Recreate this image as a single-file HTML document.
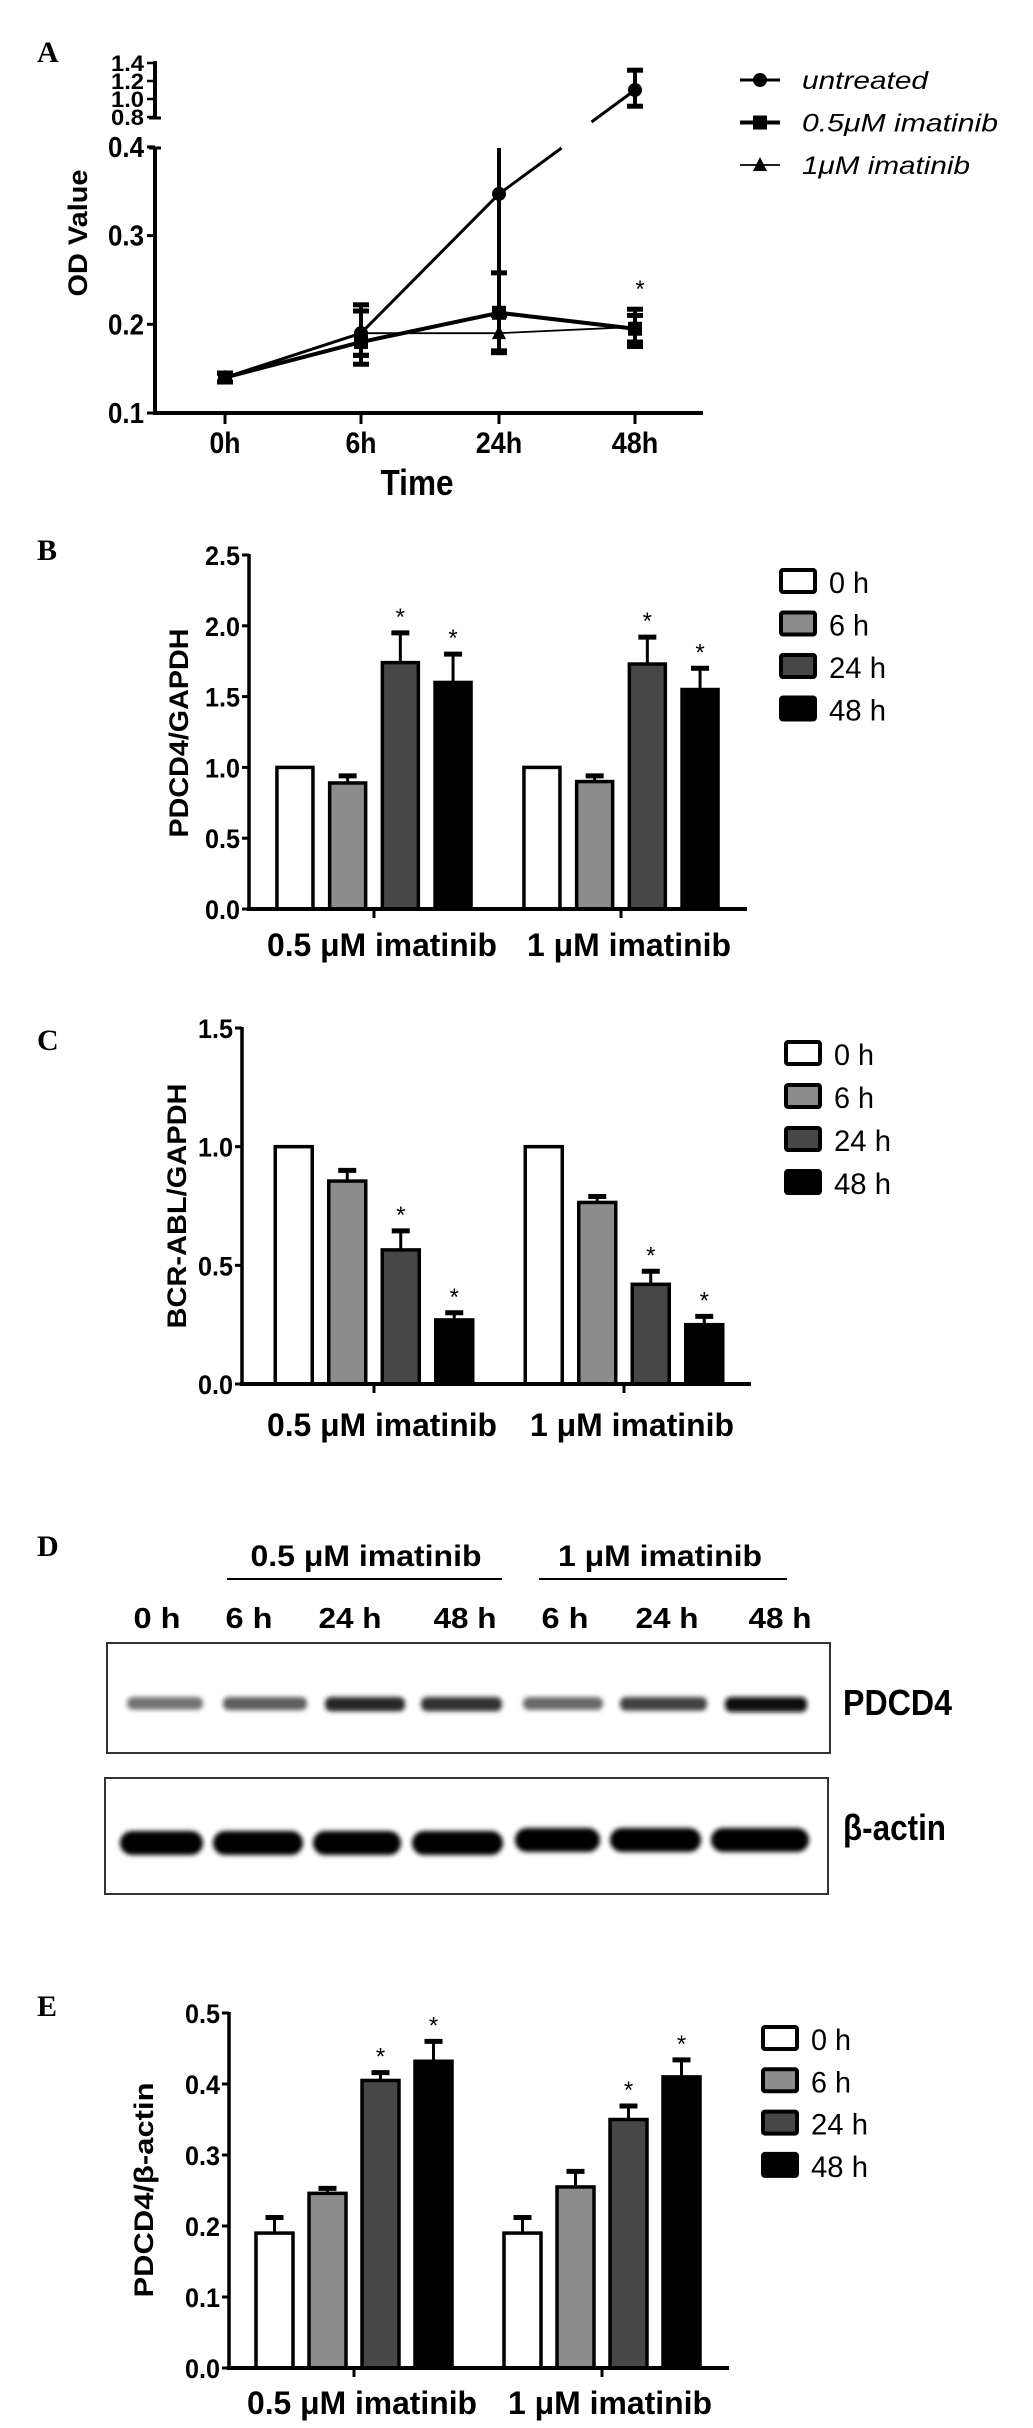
<!DOCTYPE html>
<html><head><meta charset="utf-8"><title>Figure</title>
<style>
html,body{margin:0;padding:0;background:#fff;}
svg{display:block;}
.lbl{font-family:"Liberation Serif",serif;font-weight:bold;font-size:30px;}
.tk{font-family:"Liberation Sans Narrow","Liberation Sans",sans-serif;font-weight:bold;font-size:27px;}
.ax{font-family:"Liberation Sans",sans-serif;font-weight:bold;font-size:27px;}
.grp{font-family:"Liberation Sans Narrow","Liberation Sans",sans-serif;font-weight:bold;font-size:32px;}
.lg{font-family:"Liberation Sans Narrow","Liberation Sans",sans-serif;font-size:30px;}
.lgi{font-family:"Liberation Sans",sans-serif;font-style:italic;font-size:22px;}
</style></head>
<body>
<svg id="fig" width="1033" height="2428" viewBox="0 0 1033 2428" xmlns="http://www.w3.org/2000/svg">
<defs>
<filter id="blur" x="-20%" y="-50%" width="140%" height="200%"><feGaussianBlur stdDeviation="2.5"/></filter>
</defs>
</svg>
<script>
// ---------- Panel A data ----------
const aTimes = ['0h','6h','24h','48h'];
const aUntreated = [0.14, 0.19, 0.347, 1.10];
const aUntreatedHi = [0.145, 0.215, 0.45, 1.32];
const aUntreatedLo = [0.135, 0.165, 0.17, 0.92];
const aImat05 = [0.14, 0.18, 0.213, 0.195];
const aImat05Hi = [0.145, 0.222, 0.258, 0.217];
const aImat05Lo = [0.135, 0.155, 0.168, 0.175];
const aImat1 = [0.14, 0.19, 0.19, 0.197];
const aImat1Hi = [0.145, 0.215, 0.21, 0.21];
const aImat1Lo = [0.135, 0.165, 0.17, 0.18];
const aLowTicks = [0.1, 0.2, 0.3, 0.4];
const aLowTickLabels = ['0.1','0.2','0.3','0.4'];
const aHighTicks = [0.8, 1.0, 1.2, 1.4];
const aHighTickLabels = ['0.8','1.0','1.2','1.4'];
const aSeriesNames = ['untreated','0.5μM imatinib','1μM imatinib'];

// ---------- Bar panels data ----------
const groups = ['0.5 μM imatinib','1 μM imatinib'];
const timeLabels = ['0 h','6 h','24 h','48 h'];
const bPdcd4Gapdh = [[1.0, 0.89, 1.74, 1.60],[1.0, 0.90, 1.73, 1.55]];
const bPdcd4GapdhErr = [[1.0, 0.94, 1.95, 1.80],[1.0, 0.94, 1.92, 1.70]];
const bSig = [[false,false,true,true],[false,false,true,true]];
const bTicks = [0.0, 0.5, 1.0, 1.5, 2.0, 2.5];
const bTickLabels = ['0.0','0.5','1.0','1.5','2.0','2.5'];
const cBcrAbl = [[1.0, 0.855, 0.565, 0.27],[1.0, 0.765, 0.42, 0.25]];
const cBcrAblErr = [[1.0, 0.90, 0.645, 0.30],[1.0, 0.79, 0.475, 0.285]];
const cSig = [[false,false,true,true],[false,false,true,true]];
const cTicks = [0.0, 0.5, 1.0, 1.5];
const cTickLabels = ['0.0','0.5','1.0','1.5'];
const ePdcd4Actin = [[0.19, 0.246, 0.405, 0.432],[0.19, 0.255, 0.35, 0.41]];
const ePdcd4ActinErr = [[0.212, 0.253, 0.416, 0.46],[0.212, 0.277, 0.369, 0.434]];
const eSig = [[false,false,true,true],[false,false,true,true]];
const eTicks = [0.0, 0.1, 0.2, 0.3, 0.4, 0.5];
const eTickLabels = ['0.0','0.1','0.2','0.3','0.4','0.5'];

// ---------- Western blot data (relative band intensity 0..1) ----------
const dLanes = ['0 h','6 h','24 h','48 h','6 h','24 h','48 h'];
const dPdcd4Intensity = [0.45, 0.55, 0.85, 0.8, 0.5, 0.7, 1.0];
const dActinIntensity = [1, 1, 1, 1, 1, 1, 1];

const NS = 'http://www.w3.org/2000/svg';
const svg = document.getElementById('fig');
function mk(tag, attrs, parent) {
  const el = document.createElementNS(NS, tag);
  for (const k in attrs) el.setAttribute(k, attrs[k]);
  (parent || svg).appendChild(el);
  return el;
}
function txt(s, attrs, parent) { const t = mk('text', attrs, parent); t.textContent = s; return t; }
function fit(t, w) { t.setAttribute('textLength', w); t.setAttribute('lengthAdjust', 'spacingAndGlyphs'); return t; }

// ---------- Panel labels ----------
const panelLabels = [['A',37,62],['B',37,560],['C',37,1050],['D',37,1556],['E',37,2016]];
panelLabels.forEach(p => {
  const t = txt(p[0], {x:p[1], y:p[2], class:'lbl'});
  
  
});

// ================= Panel A =================
(function(){
  const g = mk('g', {});
  
  
  const axX = 155, y0 = 413, perTenth = 88.7;
  const yLow = v => y0 - (v - 0.1) / 0.1 * perTenth;
  const yHigh = v => 117 - (v - 0.8) / 0.2 * 18;
  const yA = v => v >= 0.6 ? yHigh(v) : yLow(Math.min(v, 0.4));
  const xA = i => 225 + [0, 136, 274, 410][i];
  const ya1 = mk('line', {x1:axX, y1:148, x2:axX, y2:y0+2, stroke:'#000','stroke-width':4}, g);
  
  
  const ya2 = mk('line', {x1:axX, y1:61, x2:axX, y2:118, stroke:'#000','stroke-width':4}, g);
  
  
  mk('line', {x1:axX-6, y1:118, x2:axX+6, y2:118, stroke:'#000','stroke-width':3}, g);
  mk('line', {x1:axX-6, y1:148, x2:axX+6, y2:148, stroke:'#000','stroke-width':3}, g);
  const xa = mk('line', {x1:axX-2, y1:y0, x2:703, y2:y0, stroke:'#000','stroke-width':4}, g);
  
  
  aLowTicks.forEach((v, i) => {
    mk('line', {x1:axX-8, y1:yLow(v), x2:axX, y2:yLow(v), stroke:'#000','stroke-width':3}, g);
    const t = fit(txt(aLowTickLabels[i], {x:axX-11, y:yLow(v)+10, 'text-anchor':'end', class:'tk', style:'font-size:29px'}, g), 36);
    
    
  });
  aHighTicks.forEach((v, i) => {
    mk('line', {x1:axX-8, y1:yHigh(v), x2:axX, y2:yHigh(v), stroke:'#000','stroke-width':2.5}, g);
    const t = fit(txt(aHighTickLabels[i], {x:axX-11, y:yHigh(v)+8, 'text-anchor':'end', class:'tk', style:'font-size:22px'}, g), 33);
    
    
  });
  aTimes.forEach((s, i) => {
    mk('line', {x1:xA(i), y1:y0, x2:xA(i), y2:y0+11, stroke:'#000','stroke-width':3}, g);
    const t = fit(txt(s, {x:xA(i), y:453, 'text-anchor':'middle', class:'tk', style:'font-size:30px'}, g), s.length * 15.5);
    
    
  });
  const xt = fit(txt('Time', {x:417, y:495, 'text-anchor':'middle', class:'grp', style:'font-size:36px'}, g), 73);
  
  
  const yt = fit(txt('OD Value', {x:0, y:0, 'text-anchor':'middle', class:'ax', transform:'translate(87,233) rotate(-90)'}, g), 127);
  
  

  function drawSeries(vals, hi, lo, marker, width, name) {
    const sg = mk('g', {}, g);
    
    
    for (let i = 0; i < vals.length - 1; i++) {
      const crossing = vals[i] <= 0.4 && vals[i+1] >= 0.6;
      if (!crossing) {
        const ln = mk('line', {x1:xA(i), y1:yA(vals[i]), x2:xA(i+1), y2:yA(vals[i+1]), stroke:'#000','stroke-width':width}, sg);
        
        
      } else {
        const x1 = xA(i), x2 = xA(i+1);
        const ya = yA(vals[i]), yb = yA(vals[i+1]);
        const ln1 = mk('line', {x1:x1, y1:ya, x2:x1 + (x2-x1)*0.46, y2:148, stroke:'#000','stroke-width':width}, sg);
        
        
        const ln2 = mk('line', {x1:x1 + (x2-x1)*0.68, y1:122, x2:x2, y2:yb, stroke:'#000','stroke-width':width}, sg);
        
        
      }
    }
    vals.forEach((v, i) => {
      const x = xA(i);
      const clipped = hi[i] > 0.4 && v <= 0.4;
      const yh = clipped ? 148 : yA(hi[i]);
      const yl = yA(lo[i]);
      const eb = mk('line', {x1:x, y1:yh, x2:x, y2:yl, stroke:'#000','stroke-width':4}, sg);
      
      
      if (!clipped) mk('line', {x1:x-8, y1:yh, x2:x+8, y2:yh, stroke:'#000','stroke-width':5}, sg);
      mk('line', {x1:x-8, y1:yl, x2:x+8, y2:yl, stroke:'#000','stroke-width':5}, sg);
      let m;
      const y = yA(v);
      if (marker === 'circle') m = mk('circle', {cx:x, cy:y, r:7, fill:'#000'}, sg);
      else if (marker === 'square') m = mk('rect', {x:x-7, y:y-7, width:14, height:14, fill:'#000'}, sg);
      else m = mk('polygon', {points:`${x},${y-8} ${x-7},${y+6} ${x+7},${y+6}`, fill:'#000'}, sg);
      
      
    });
  }
  drawSeries(aImat1, aImat1Hi, aImat1Lo, 'triangle', 1.8, 'imatinib-1um');
  drawSeries(aImat05, aImat05Hi, aImat05Lo, 'square', 4, 'imatinib-05um');
  drawSeries(aUntreated, aUntreatedHi, aUntreatedLo, 'circle', 3, 'untreated');
  const st = txt('*', {x:xA(3)+5, y:297, 'text-anchor':'middle', class:'ax', style:'font-size:24px;font-weight:normal'}, g);
  
  
  const markers = ['circle','square','triangle'];
  const lw = [3, 4, 1.8];
  const lgW = [126, 196, 168];
  aSeriesNames.forEach((s, i) => {
    const y = 80 + i * 42.5;
    const lg = mk('g', {}, g);
    
    
    mk('line', {x1:740, y1:y, x2:780, y2:y, stroke:'#000','stroke-width':lw[i]}, lg);
    if (markers[i] === 'circle') mk('circle', {cx:760, cy:y, r:7, fill:'#000'}, lg);
    else if (markers[i] === 'square') mk('rect', {x:753, y:y-7, width:14, height:14, fill:'#000'}, lg);
    else mk('polygon', {points:`760,${y-8} 753,${y+6} 767,${y+6}`, fill:'#000'}, lg);
    fit(txt(s, {x:802, y:y+9, class:'lgi', style:'font-size:25px'}, lg), lgW[i]);
  });
})();

// ================= Bar chart builder =================
function barChart(cfg) {
  const g = mk('g', {});
  
  
  const yv = v => cfg.y0 - (v / cfg.vmax) * (cfg.y0 - cfg.yTop);
  const fills = ['#ffffff', '#8c8c8c', '#474747', '#000000'];
  const ya = mk('line', {x1:cfg.axX, y1:cfg.yTop-1, x2:cfg.axX, y2:cfg.y0, stroke:'#000','stroke-width':3.5}, g);
  
  
  cfg.ticks.forEach((v, i) => {
    mk('line', {x1:cfg.axX-7, y1:yv(v), x2:cfg.axX, y2:yv(v), stroke:'#000','stroke-width':3}, g);
    const t = fit(txt(cfg.tickLabels[i], {x:cfg.axX-9, y:yv(v)+10, 'text-anchor':'end', class:'tk'}, g), 35);
    
    
  });
  const yt = fit(txt(cfg.ylabel, {x:0, y:0, 'text-anchor':'middle', class:'ax', transform:`translate(${cfg.ylabX},${cfg.ylabY}) rotate(-90)`}, g), cfg.ylabW);
  
  
  groups.forEach((gname, gi) => {
    const gc = cfg.groupX[gi];
    cfg.vals[gi].forEach((v, bi) => {
      const cx = gc + (bi - 1.5) * cfg.step;
      const x = cx - cfg.bw / 2;
      const b = mk('rect', {x:x, y:yv(v), width:cfg.bw, height:cfg.y0 - yv(v), fill:fills[bi], stroke:'#000','stroke-width':3.5}, g);
      
      
      const e = cfg.err[gi][bi];
      if (e > v + 0.0001) {
        const eb = mk('line', {x1:cx, y1:yv(v), x2:cx, y2:yv(e), stroke:'#000','stroke-width':3}, g);
        
        
        mk('line', {x1:cx-9, y1:yv(e), x2:cx+9, y2:yv(e), stroke:'#000','stroke-width':5}, g);
      }
      if (cfg.sig[gi][bi]) {
        const s = txt('*', {x:cx, y:yv(e) - 8, 'text-anchor':'middle', class:'ax', style:'font-size:24px;font-weight:normal'}, g);
        
        
      }
    });
    mk('line', {x1:gc, y1:cfg.y0, x2:gc, y2:cfg.y0+9, stroke:'#000','stroke-width':3}, g);
    const gl = fit(txt(gname, {x:gc + 8, y:cfg.labY, 'text-anchor':'middle', class:'grp'}, g), gi ? 204 : 230);
    
    
  });
  const xa = mk('line', {x1:cfg.axX-2, y1:cfg.y0, x2:cfg.xEnd, y2:cfg.y0, stroke:'#000','stroke-width':4}, g);
  
  
  timeLabels.forEach((s, i) => {
    const y = cfg.legY + i * cfg.legStep;
    const lg = mk('g', {}, g);
    
    
    mk('rect', {x:cfg.legX, y:y, width:34, height:22, fill:fills[i], stroke:'#000','stroke-width':4, rx:2}, lg);
    fit(txt(s, {x:cfg.legX + 48, y:y + 23, class:'lg'}, lg), s.length === 3 ? 40 : 57);
  });
}

barChart({name:'panel-b-bar-chart', vals:bPdcd4Gapdh, err:bPdcd4GapdhErr, sig:bSig, ticks:bTicks, tickLabels:bTickLabels,
  vmax:2.5, y0:909, yTop:555, axX:249, xEnd:747, groupX:[374, 621], step:52.7, bw:36, labY:956,
  ylabel:'PDCD4/GAPDH', ylabW:209, ylabX:188, ylabY:733, legX:781, legY:570, legStep:42.5});
barChart({name:'panel-c-bar-chart', vals:cBcrAbl, err:cBcrAblErr, sig:cSig, ticks:cTicks, tickLabels:cTickLabels,
  vmax:1.5, y0:1384, yTop:1028, axX:242, xEnd:751, groupX:[374, 624], step:53.5, bw:37, labY:1436,
  ylabel:'BCR-ABL/GAPDH', ylabW:245, ylabX:186, ylabY:1206, legX:786, legY:1042, legStep:43});
barChart({name:'panel-e-bar-chart', vals:ePdcd4Actin, err:ePdcd4ActinErr, sig:eSig, ticks:eTicks, tickLabels:eTickLabels,
  vmax:0.5, y0:2368, yTop:2013, axX:229, xEnd:729, groupX:[354, 602], step:53, bw:37, labY:2414,
  ylabel:'PDCD4/β-actin', ylabW:215, ylabX:153, ylabY:2190, legX:763, legY:2027, legStep:42.3});

// ================= Panel D (western blot) =================
(function(){
  const g = mk('g', {});
  
  
  const h1 = fit(txt('0.5 μM imatinib', {x:366, y:1566, 'text-anchor':'middle', class:'grp', style:'font-size:30px'}, g), 231);
  
  
  const h2 = fit(txt('1 μM imatinib', {x:660, y:1566, 'text-anchor':'middle', class:'grp', style:'font-size:30px'}, g), 204);
  
  
  mk('line', {x1:227, y1:1579, x2:502, y2:1579, stroke:'#000','stroke-width':2}, g);
  mk('line', {x1:539, y1:1579, x2:787, y2:1579, stroke:'#000','stroke-width':2}, g);
  const laneX = [157, 249, 350, 465, 565, 667, 780];
  const pdX = [[127,203],[223,307],[325,405],[421,502],[523,603],[620,707],[725,807]];
  const acX = [[120,203],[213,303],[313,401],[412,503],[515,600],[610,701],[711,809]];
  dLanes.forEach((s, i) => {
    const t = fit(txt(s, {x:laneX[i], y:1628, 'text-anchor':'middle', class:'grp', style:'font-size:29px'}, g), s.length === 3 ? 47 : 63);
    
    
  });
  const b1 = mk('rect', {x:107, y:1643, width:723, height:110, fill:'#fff', stroke:'#333','stroke-width':2}, g);
  
  
  const b2 = mk('rect', {x:105, y:1778, width:723, height:116, fill:'#fff', stroke:'#333','stroke-width':2}, g);
  
  
  dPdcd4Intensity.forEach((v, i) => {
    const c = Math.round(200 - v * 190);
    const b = mk('rect', {x:pdX[i][0], y:1697, width:pdX[i][1]-pdX[i][0], height:11 + v*4, rx:6, fill:`rgb(${c},${c},${c})`, filter:'url(#blur)'}, g);
    
    
  });
  dActinIntensity.forEach((v, i) => {
    const c = Math.round(40 - v * 35);
    const b = mk('rect', {x:acX[i][0], y:1831 - (i>3?3:0), width:acX[i][1]-acX[i][0], height:24, rx:12, fill:`rgb(${c},${c},${c})`, filter:'url(#blur)'}, g);
    
    
  });
  const l1 = fit(txt('PDCD4', {x:843, y:1715, class:'grp', style:'font-size:36px'}, g), 109);
  
  
  const l2 = fit(txt('β-actin', {x:843, y:1840, class:'grp', style:'font-size:36px'}, g), 103);
  
  
})();
</script>
</body></html>
